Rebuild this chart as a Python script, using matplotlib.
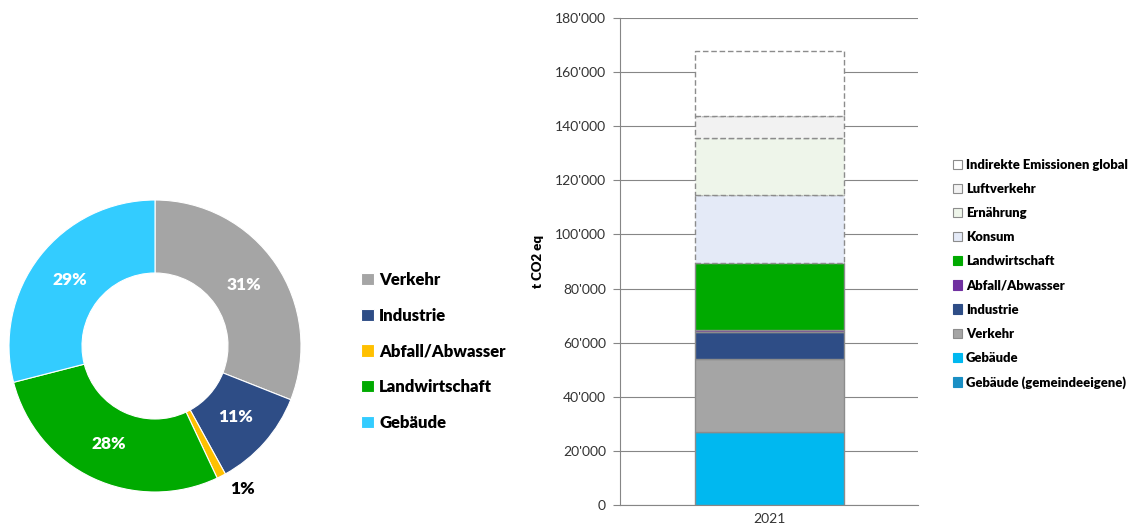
import numpy as np
import matplotlib
matplotlib.use("Agg")
from matplotlib import pyplot as plt
from matplotlib.patches import Patch
from matplotlib.ticker import FuncFormatter

plt.rcParams['font.family'] = ['Lato', 'DejaVu Sans']

# ---------- Data ---------- #
pie_labels = ["Verkehr", "Industrie", "Abfall/Abwasser", "Landwirtschaft", "Gebäude"]
pie_values = [31, 11, 1, 28, 29]
pie_colors = ["#A5A5A5", "#2E4D86", "#FFC000", "#00AA00", "#33CCFF"]

bar_year = "2021"
bar_labels = ["Gebäude (gemeindeeigene)", "Gebäude", "Verkehr", "Industrie", "Abfall/Abwasser",
              "Landwirtschaft", "Konsum", "Ernährung", "Luftverkehr", "Indirekte Emissionen global"]
bar_values = [0, 26900, 27000, 10000, 600, 25000, 25100, 21200, 8000, 24100]
bar_colors = ["#1A8FC4", "#00B8F0", "#A5A5A5", "#2E4D86", "#7030A0",
              "#00AA00", "#E4EAF7", "#EEF5EA", "#F2F2F2", "#FFFFFF"]
bar_dashed = [False, False, False, False, False, False, True, True, True, True]

# ---------- Figure ---------- #
W, H = 1130, 529
fig = plt.figure(figsize=(W / 100, H / 100), dpi=100)

def px_axes(x0, y0, x1, y1):
    return fig.add_axes([x0 / W, 1 - y1 / H, (x1 - x0) / W, (y1 - y0) / H])

# Donut
ax1 = px_axes(9, 200, 301, 492)
wedges, _, autotexts = ax1.pie(pie_values, colors=pie_colors, startangle=90, counterclock=False,
                               autopct="%d%%", pctdistance=0.74,
                               wedgeprops=dict(width=0.5, edgecolor="white", linewidth=0.8),
                               textprops=dict(color="white", fontsize=12.5, fontweight="heavy"))
ax1.set_xlim(-1, 1)
ax1.set_ylim(-1, 1)
for t, v in zip(autotexts, pie_values):
    t.set_text("%d%%" % v)
    if v < 3:
        t.set_color("black")
        t.set_position((0.60, -0.98))

fig.legend(wedges, pie_labels, loc="upper left", bbox_to_anchor=(346 / W, 1 - 257 / H),
           frameon=False, prop=dict(size=12, weight="heavy"), labelspacing=1.18,
           handlelength=0.75, handleheight=0.75, handletextpad=0.35)

# Stacked bar
ax2 = px_axes(620, 18, 918, 505)
bottom = 0
handles = []
for val, col, dashed, lab in zip(bar_values, bar_colors, bar_dashed, bar_labels):
    ec = "#8C8C8C"
    ls = (0, (4, 2)) if dashed else "-"
    ax2.bar([0], [val], width=0.5, bottom=bottom, color=col, edgecolor=ec, linewidth=1.0,
            linestyle=ls, zorder=3)
    bottom += val
    handles.append(Patch(facecolor=col, edgecolor="#8C8C8C" if (dashed or col == "#A5A5A5") else col,
                         linewidth=0.8, label=lab))

ax2.set_xlim(-0.5, 0.5)
ax2.set_ylim(0, 180000)
ax2.set_yticks(np.arange(0, 180001, 20000))
ax2.yaxis.set_major_formatter(FuncFormatter(lambda v, p: "{:,.0f}".format(v).replace(",", "'")))
ax2.set_xticks([0])
ax2.set_xticklabels([bar_year])
ax2.tick_params(axis="y", length=5, color="#868686", labelsize=10, labelcolor="#333333", pad=5)
ax2.tick_params(axis="x", length=0, labelsize=10, labelcolor="#333333", pad=6)
ax2.grid(axis="y", color="#868686", linewidth=0.8, zorder=0)
for s in ["top", "right"]:
    ax2.spines[s].set_visible(False)
for s in ["left", "bottom"]:
    ax2.spines[s].set_color("#868686")
ax2.set_ylabel("t CO2 eq", fontsize=9.5, fontweight="heavy", labelpad=8)

fig.legend(handles[::-1], bar_labels[::-1], loc="upper left", bbox_to_anchor=(941 / W, 1 - 147 / H),
           frameon=False, prop=dict(size=9.4, weight="heavy"), labelspacing=0.93,
           handlelength=0.72, handleheight=0.72, handletextpad=0.3)

fig.savefig("out.png", dpi=100)
